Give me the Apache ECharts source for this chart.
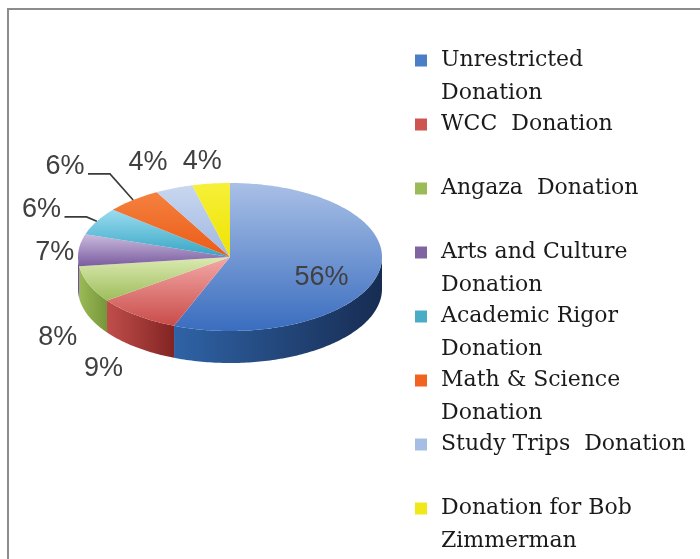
<!DOCTYPE html>
<html>
<head>
<meta charset="utf-8">
<script src="https://cdn.jsdelivr.net/npm/echarts@6/dist/echarts.min.js"></script>
<style>
  html, body { margin: 0; padding: 0; background: #fff; }
  #donationChart { width: 700px; height: 559px; }
</style>
</head>
<body>
<div id="donationChart"></div>
<script>
// data (legend text keeps the wrapping of the original)
const categories = ['Unrestricted\nDonation', 'WCC  Donation', 'Angaza  Donation', 'Arts and Culture\nDonation',
  'Academic Rigor\nDonation', 'Math & Science\nDonation', 'Study Trips  Donation', 'Donation for Bob\nZimmerman'];
const percents = [56, 9, 8, 7, 6, 6, 4, 4];

// colours: [light, dark] for top face, [left, right] for the side wall, and legend swatch
const topColors = [['#a9c0e6', '#3a6dbf'], ['#f3a9a8', '#c94c49'], ['#dbeab2', '#9ebd5b'], ['#cbbbde', '#7a5c9f'],
  ['#9adcf0', '#36a5c3'], ['#f5813f', '#eb5b17'], ['#c9d7ef', '#9fb7e1'], ['#f6f03a', '#efe300']];
const wallColors = [['#2f63a6', '#172c52'], ['#c04e4b', '#822423'], ['#9aba57', '#76963a'], ['#7a5c9f', '#5c437c'],
  ['#36a5c3', '#25788f'], ['#e0561a', '#a83c0f'], ['#8ea8d6', '#6a86b8'], ['#d8cc00', '#a89e00']];
const legendColors = ['#4a7ec7', '#cd5451', '#9bbb59', '#8064a2', '#4bacc6', '#f0641f', '#a7bee4', '#f0e81a'];

// pie geometry (tilted ellipse + wall depth)
const cx = 230, cy = 257, rx = 152, ry = 74, depth = 32;
const labelGap = 30;
// small manual moves of the labels, like Excel's best fit
const labelNudge = [[2, 12], [-15, -3], [-3, 10], [6, 5], [-29, 3], [-49, -10], [-15, 2], [-5, 8]];
const showLeader = [false, false, false, false, true, true, false, false];

const total = percents.reduce((a, b) => a + b, 0);
const startAt = [];
let acc = 0;
percents.forEach(v => { startAt.push(acc); acc += v; });

function ellipsePt(a, dy) {
  return [cx + rx * Math.cos(a), cy + ry * Math.sin(a) + (dy || 0)];
}
function arcPts(a0, a1, dy) {
  const n = Math.max(2, Math.ceil(Math.abs(a1 - a0) / (Math.PI / 180)));
  const pts = [];
  for (let k = 0; k <= n; k++) pts.push(ellipsePt(a0 + (a1 - a0) * k / n, dy));
  return pts;
}

function renderSlice(params, api) {
  const i = params.dataIndex;
  const v = api.value(0);
  const a0 = -Math.PI / 2 + 2 * Math.PI * startAt[i] / total;
  const a1 = a0 + 2 * Math.PI * v / total;
  const children = [];

  // front wall only where the rim faces us
  const w0 = Math.max(a0, 0), w1 = Math.min(a1, Math.PI);
  if (w1 > w0) {
    children.push({
      type: 'polygon',
      z2: 1,
      shape: { points: arcPts(w0, w1, 0).concat(arcPts(w1, w0, depth)) },
      style: {
        fill: new echarts.graphic.LinearGradient(0, 0, 1, 0, [
          { offset: 0, color: wallColors[i][0] },
          { offset: 1, color: wallColors[i][1] }
        ])
      }
    });
  }

  // top face
  children.push({
    type: 'polygon',
    z2: 5,
    shape: { points: [[cx, cy]].concat(arcPts(a0, a1, 0)) },
    style: {
      fill: new echarts.graphic.LinearGradient(0, 0, 0, 1, [
        { offset: 0, color: topColors[i][0] },
        { offset: 1, color: topColors[i][1] }
      ])
    }
  });

  // percentage label
  const mid = (a0 + a1) / 2;
  let lx, ly;
  if (v / total > 0.25) {
    lx = cx + 0.6 * rx * Math.cos(mid);
    ly = cy + 0.6 * ry * Math.sin(mid);
  } else {
    lx = cx + (rx + labelGap) * Math.cos(mid);
    ly = cy + (ry + labelGap) * Math.sin(mid) + (Math.sin(mid) > 0 ? depth : 0);
  }
  lx += labelNudge[i][0];
  ly += labelNudge[i][1];
  children.push({
    type: 'text',
    z2: 10,
    style: {
      text: v + '%',
      x: lx,
      y: ly,
      align: 'center',
      verticalAlign: 'middle',
      fill: '#404040',
      fontSize: 27,
      fontFamily: '"Liberation Sans Narrow", "Liberation Sans", sans-serif'
    }
  });
  if (showLeader[i]) {
    const rim = ellipsePt(mid, 0);
    children.push({
      type: 'polyline',
      z2: 10,
      shape: { points: [[lx + 23, ly + 7], [lx + 45, ly + 7], rim] },
      style: { stroke: '#3a3a3a', lineWidth: 1.6, fill: null }
    });
  }
  return { type: 'group', children: children };
}

const donationChart = echarts.init(document.getElementById('donationChart'));
donationChart.setOption({
  animation: false,
  backgroundColor: '#fff',
  graphic: [{
    type: 'rect',
    shape: { x: 8, y: 9, width: 800, height: 700 },
    style: { fill: null, stroke: '#8c8c8c', lineWidth: 2 },
    silent: true
  }],
  legend: {
    orient: 'vertical',
    left: 415,
    top: 11,
    height: 600,
    padding: 0,
    itemWidth: 12,
    itemHeight: 12,
    itemGap: -35,
    icon: 'rect',
    selectedMode: false,
    data: categories,
    // empty line on top keeps the swatch level with the first text line
    formatter: function (name) {
      return '\n' + (name.indexOf('\n') >= 0 ? name : name + '\n ');
    },
    textStyle: {
      fontFamily: '"DejaVu Serif", serif',
      fontSize: 22,
      color: '#1a1a1a',
      lineHeight: 33,
      padding: [0, 0, 0, 9]
    }
  },
  series: [
    {
      // the 3D-looking pie
      type: 'custom',
      name: 'Donations',
      coordinateSystem: 'none',
      renderItem: renderSlice,
      silent: true,
      data: categories.map((c, i) => ({ name: c, value: percents[i] }))
    },
    {
      // gives the legend its entries; drawn at zero size
      type: 'pie',
      name: 'legendEntries',
      radius: [0, 1],
      center: [-50, -50],
      silent: true,
      label: { show: false },
      labelLine: { show: false },
      data: categories.map((c, i) => ({ name: c, value: percents[i], itemStyle: { color: legendColors[i] } }))
    }
  ]
});
</script>
</body>
</html>
